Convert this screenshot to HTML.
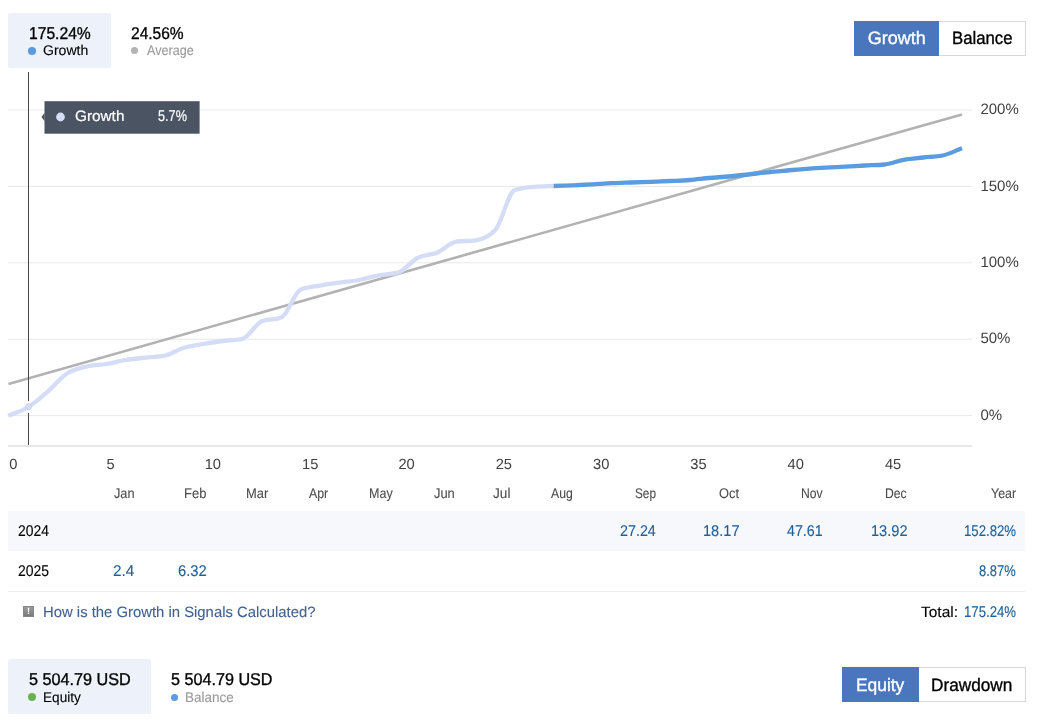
<!DOCTYPE html>
<html lang="en"><head><meta charset="utf-8"><title>Growth</title>
<style>
html,body{margin:0;padding:0;background:#fff;}
body{width:1050px;height:721px;position:relative;overflow:hidden;font-family:"Liberation Sans", sans-serif;text-rendering:geometricPrecision;}
.t{position:absolute;white-space:nowrap;display:block;}
.dot{position:absolute;border-radius:50%;display:block;}
.box{position:absolute;}
svg{position:absolute;left:0;top:0;}
svg text{font-family:"Liberation Sans", sans-serif;font-size:15px;fill:#404040;}
</style></head><body>

<div class="box" style="left:8px;top:13px;width:103px;height:55px;background:#edf2fa;border-radius:2px"></div>
<span class="t" style="left:28.78px;top:23.61px;font-size:17px;line-height:19px;color:#000;transform:scale(0.9205,1.0000);transform-origin:0 15.39px;-webkit-text-stroke:0.35px currentColor;">175.24%</span>
<i class="dot" style="left:28.35px;top:47.05px;width:7.5px;height:7.5px;background:#5b9be0"></i>
<span class="t" style="left:43.12px;top:42.15px;font-size:14px;line-height:16px;color:#000;transform:scale(1.0041,1.0000);transform-origin:0 12.85px;-webkit-text-stroke:0.125px currentColor;">Growth</span>
<span class="t" style="left:131.27px;top:23.61px;font-size:17px;line-height:19px;color:#000;transform:scale(0.9132,1.0000);transform-origin:0 15.39px;-webkit-text-stroke:0.35px currentColor;">24.56%</span>
<i class="dot" style="left:131.30px;top:47.30px;width:7px;height:7px;background:#b3b3b3"></i>
<span class="t" style="left:146.70px;top:42.15px;font-size:14px;line-height:16px;color:#999;transform:scale(0.8995,1.0000);transform-origin:0 12.85px;-webkit-text-stroke:0.1px currentColor;">Average</span>
<div class="box" style="left:854px;top:21px;width:85px;height:35px;background:#4a76bd"></div>
<div class="box" style="left:939px;top:21px;width:86px;height:33px;background:#fff;border:1px solid #d8d8d8;border-left:none"></div>
<span class="t" style="left:867.85px;top:27.76px;font-size:18px;line-height:20px;color:#fff;-webkit-text-stroke:0.35px currentColor;">Growth</span>
<span class="t" style="left:951.91px;top:27.76px;font-size:18px;line-height:20px;color:#000;transform:scale(0.9311,1.0000);transform-origin:0 16.24px;-webkit-text-stroke:0.35px currentColor;">Balance</span>
<svg width="1050" height="500" viewBox="0 0 1050 500">
<defs><clipPath id="cl"><rect x="0" y="0" width="553.60" height="500"/></clipPath><clipPath id="cr"><rect x="553.60" y="0" width="600" height="500"/></clipPath></defs>
<rect x="8" y="109.5" width="964" height="1" fill="#e9e9e9"/>
<rect x="8" y="185.9" width="964" height="1" fill="#e9e9e9"/>
<rect x="8" y="262.3" width="964" height="1" fill="#e9e9e9"/>
<rect x="8" y="338.7" width="964" height="1" fill="#e9e9e9"/>
<rect x="8" y="415.1" width="964" height="1" fill="#e9e9e9"/>
<rect x="8" y="445" width="964" height="2" fill="#e8e8e8"/>
<path d="M8.5,384 L962,114.4" stroke="#b2b2b2" stroke-width="2.6" fill="none"/>
<rect x="28" y="72" width="1" height="373" fill="#46464c"/>
<circle cx="28.5" cy="407" r="6" fill="#fff"/>
<path d="M8.1,415.75 L9.00,415.40C15.48,412.60 21.97,410.98 28.45,407.00C34.93,403.02 41.42,397.13 47.90,391.50C54.38,385.87 60.87,377.37 67.35,373.20C73.83,369.03 80.32,368.03 86.80,366.50C93.28,364.97 99.77,365.08 106.25,364.00C112.73,362.92 119.22,361.05 125.70,360.00C132.18,358.95 138.67,358.42 145.15,357.70C151.63,356.98 158.12,357.03 164.60,355.70C171.08,354.37 177.57,349.65 184.05,347.70C190.53,345.75 197.02,345.12 203.50,344.00C209.98,342.88 216.47,341.83 222.95,341.00C229.43,340.17 235.92,340.33 242.40,339.00C248.88,337.67 255.37,323.60 261.85,321.20C268.33,318.80 274.82,320.00 281.30,317.60C287.78,315.20 294.27,292.10 300.75,289.50C307.23,286.90 313.72,286.75 320.20,285.60C326.68,284.45 333.17,283.53 339.65,282.60C346.13,281.67 352.62,281.22 359.10,280.00C365.58,278.78 372.07,276.52 378.55,275.30C385.03,274.08 391.52,274.43 398.00,272.70C404.48,270.97 410.97,261.33 417.45,258.00C423.93,254.67 430.42,255.42 436.90,252.70C443.38,249.98 449.87,242.63 456.35,241.70C462.83,240.77 469.32,241.23 475.80,240.30C482.28,239.37 488.77,236.87 495.25,230.00C501.73,223.13 508.22,192.13 514.70,190.00C521.18,187.87 527.67,187.33 534.15,186.80C540.63,186.27 547.12,186.25 553.60,186.00C560.08,185.75 566.57,185.58 573.05,185.30C579.53,185.02 586.02,184.65 592.50,184.30C598.98,183.95 605.47,183.50 611.95,183.20C618.43,182.90 624.92,182.73 631.40,182.50C637.88,182.27 644.37,182.05 650.85,181.80C657.33,181.55 663.82,181.30 670.30,181.00C676.78,180.70 683.27,180.50 689.75,180.00C696.23,179.50 702.72,178.58 709.20,178.00C715.68,177.42 722.17,177.08 728.65,176.50C735.13,175.92 741.62,175.20 748.10,174.50C754.58,173.80 761.07,172.97 767.55,172.30C774.03,171.63 780.52,171.08 787.00,170.50C793.48,169.92 799.97,169.27 806.45,168.80C812.93,168.33 819.42,168.05 825.90,167.70C832.38,167.35 838.87,167.07 845.35,166.70C851.83,166.33 858.32,165.87 864.80,165.50C871.28,165.13 877.77,165.17 884.25,164.50C890.73,163.83 897.22,160.97 903.70,159.80C910.18,158.63 916.67,158.22 923.15,157.50C929.63,156.78 936.12,156.83 942.60,155.50C949.08,154.17 955.57,150.63 962.05,148.20" stroke="#d5dcf5" stroke-width="4.3" fill="none" clip-path="url(#cl)" stroke-linejoin="round"/>
<path d="M8.1,415.75 L9.00,415.40C15.48,412.60 21.97,410.98 28.45,407.00C34.93,403.02 41.42,397.13 47.90,391.50C54.38,385.87 60.87,377.37 67.35,373.20C73.83,369.03 80.32,368.03 86.80,366.50C93.28,364.97 99.77,365.08 106.25,364.00C112.73,362.92 119.22,361.05 125.70,360.00C132.18,358.95 138.67,358.42 145.15,357.70C151.63,356.98 158.12,357.03 164.60,355.70C171.08,354.37 177.57,349.65 184.05,347.70C190.53,345.75 197.02,345.12 203.50,344.00C209.98,342.88 216.47,341.83 222.95,341.00C229.43,340.17 235.92,340.33 242.40,339.00C248.88,337.67 255.37,323.60 261.85,321.20C268.33,318.80 274.82,320.00 281.30,317.60C287.78,315.20 294.27,292.10 300.75,289.50C307.23,286.90 313.72,286.75 320.20,285.60C326.68,284.45 333.17,283.53 339.65,282.60C346.13,281.67 352.62,281.22 359.10,280.00C365.58,278.78 372.07,276.52 378.55,275.30C385.03,274.08 391.52,274.43 398.00,272.70C404.48,270.97 410.97,261.33 417.45,258.00C423.93,254.67 430.42,255.42 436.90,252.70C443.38,249.98 449.87,242.63 456.35,241.70C462.83,240.77 469.32,241.23 475.80,240.30C482.28,239.37 488.77,236.87 495.25,230.00C501.73,223.13 508.22,192.13 514.70,190.00C521.18,187.87 527.67,187.33 534.15,186.80C540.63,186.27 547.12,186.25 553.60,186.00C560.08,185.75 566.57,185.58 573.05,185.30C579.53,185.02 586.02,184.65 592.50,184.30C598.98,183.95 605.47,183.50 611.95,183.20C618.43,182.90 624.92,182.73 631.40,182.50C637.88,182.27 644.37,182.05 650.85,181.80C657.33,181.55 663.82,181.30 670.30,181.00C676.78,180.70 683.27,180.50 689.75,180.00C696.23,179.50 702.72,178.58 709.20,178.00C715.68,177.42 722.17,177.08 728.65,176.50C735.13,175.92 741.62,175.20 748.10,174.50C754.58,173.80 761.07,172.97 767.55,172.30C774.03,171.63 780.52,171.08 787.00,170.50C793.48,169.92 799.97,169.27 806.45,168.80C812.93,168.33 819.42,168.05 825.90,167.70C832.38,167.35 838.87,167.07 845.35,166.70C851.83,166.33 858.32,165.87 864.80,165.50C871.28,165.13 877.77,165.17 884.25,164.50C890.73,163.83 897.22,160.97 903.70,159.80C910.18,158.63 916.67,158.22 923.15,157.50C929.63,156.78 936.12,156.83 942.60,155.50C949.08,154.17 955.57,150.63 962.05,148.20" stroke="#5b9be0" stroke-width="4.3" fill="none" clip-path="url(#cr)" stroke-linejoin="round"/>
<circle cx="28.4" cy="406.8" r="3.1" fill="#d5dcf5" stroke="#c6cef0" stroke-width="0.8"/>
<text x="980.4" y="114.1">200%</text>
<text x="980.4" y="190.5">150%</text>
<text x="980.4" y="266.9">100%</text>
<text x="980.4" y="343.3">50%</text>
<text x="980.4" y="419.7">0%</text>
<text x="9.2" y="468.7" style="font-size:14.7px">0</text>
<text x="106.5" y="468.7" style="font-size:14.7px">5</text>
<text x="204.7" y="468.7" style="font-size:14.7px">10</text>
<text x="302.0" y="468.7" style="font-size:14.7px">15</text>
<text x="398.4" y="468.7" style="font-size:14.7px">20</text>
<text x="495.7" y="468.7" style="font-size:14.7px">25</text>
<text x="593.0" y="468.7" style="font-size:14.7px">30</text>
<text x="690.3" y="468.7" style="font-size:14.7px">35</text>
<text x="787.6" y="468.7" style="font-size:14.7px">40</text>
<text x="884.9" y="468.7" style="font-size:14.7px">45</text>
<rect x="44.5" y="101.2" width="155.1" height="32.5" fill="#4a5463"/>
<path d="M44.6,112.8 L41.5,117 L44.6,121.2 Z" fill="#4a5463"/>
<circle cx="60.5" cy="117" r="4.4" fill="#d8ddf7"/>
</svg>
<span class="t" style="left:74.83px;top:108.30px;font-size:15px;line-height:17px;color:#fff;transform:scale(1.0218,1.0000);transform-origin:0 13.70px;-webkit-text-stroke:0.2px currentColor;">Growth</span>
<span class="t" style="left:157.89px;top:108.13px;font-size:15.5px;line-height:17px;color:#fff;transform:scale(0.8189,1.0000);transform-origin:0 13.87px;-webkit-text-stroke:0.2px currentColor;">5.7%</span>
<span class="t" style="left:114.06px;top:485.15px;font-size:14px;line-height:16px;color:#4c4c4c;transform:scale(0.9101,1.0000);transform-origin:0 12.85px;-webkit-text-stroke:0.1px currentColor;">Jan</span>
<span class="t" style="left:184.46px;top:485.15px;font-size:14px;line-height:16px;color:#4c4c4c;transform:scale(0.9263,1.0000);transform-origin:0 12.85px;-webkit-text-stroke:0.1px currentColor;">Feb</span>
<span class="t" style="left:246.22px;top:485.15px;font-size:14px;line-height:16px;color:#4c4c4c;transform:scale(0.9226,1.0000);transform-origin:0 12.85px;-webkit-text-stroke:0.1px currentColor;">Mar</span>
<span class="t" style="left:309.25px;top:485.15px;font-size:14px;line-height:16px;color:#4c4c4c;transform:scale(0.8809,1.0000);transform-origin:0 12.85px;-webkit-text-stroke:0.1px currentColor;">Apr</span>
<span class="t" style="left:368.50px;top:485.15px;font-size:14px;line-height:16px;color:#4c4c4c;transform:scale(0.8957,1.0000);transform-origin:0 12.85px;-webkit-text-stroke:0.1px currentColor;">May</span>
<span class="t" style="left:433.61px;top:485.15px;font-size:14px;line-height:16px;color:#4c4c4c;transform:scale(0.9195,1.0000);transform-origin:0 12.85px;-webkit-text-stroke:0.1px currentColor;">Jun</span>
<span class="t" style="left:493.00px;top:485.15px;font-size:14px;line-height:16px;color:#4c4c4c;transform:scale(0.9738,1.0000);transform-origin:0 12.85px;-webkit-text-stroke:0.1px currentColor;">Jul</span>
<span class="t" style="left:551.20px;top:485.15px;font-size:14px;line-height:16px;color:#4c4c4c;transform:scale(0.8743,1.0000);transform-origin:0 12.85px;-webkit-text-stroke:0.1px currentColor;">Aug</span>
<span class="t" style="left:634.97px;top:485.15px;font-size:14px;line-height:16px;color:#4c4c4c;transform:scale(0.8425,1.0000);transform-origin:0 12.85px;-webkit-text-stroke:0.1px currentColor;">Sep</span>
<span class="t" style="left:718.92px;top:485.15px;font-size:14px;line-height:16px;color:#4c4c4c;transform:scale(0.9159,1.0000);transform-origin:0 12.85px;-webkit-text-stroke:0.1px currentColor;">Oct</span>
<span class="t" style="left:801.23px;top:485.15px;font-size:14px;line-height:16px;color:#4c4c4c;transform:scale(0.8678,1.0000);transform-origin:0 12.85px;-webkit-text-stroke:0.1px currentColor;">Nov</span>
<span class="t" style="left:885.13px;top:485.15px;font-size:14px;line-height:16px;color:#4c4c4c;transform:scale(0.8696,1.0000);transform-origin:0 12.85px;-webkit-text-stroke:0.1px currentColor;">Dec</span>
<span class="t" style="left:990.59px;top:485.15px;font-size:14px;line-height:16px;color:#4c4c4c;transform:scale(0.8872,1.0000);transform-origin:0 12.85px;-webkit-text-stroke:0.1px currentColor;">Year</span>
<div class="box" style="left:8px;top:511px;width:1017px;height:40px;background:#f7f8fc"></div>
<div class="box" style="left:8px;top:591px;width:1017px;height:1px;background:#eee"></div>
<span class="t" style="left:18.36px;top:523.13px;font-size:15.5px;line-height:17px;color:#000;transform:scale(0.8963,1.0000);transform-origin:0 13.87px;-webkit-text-stroke:0.15px currentColor;">2024</span>
<span class="t" style="left:18.35px;top:563.13px;font-size:15.5px;line-height:17px;color:#000;transform:scale(0.9005,1.0000);transform-origin:0 13.87px;-webkit-text-stroke:0.15px currentColor;">2025</span>
<span class="t" style="left:620.11px;top:523.13px;font-size:15.5px;line-height:17px;color:#20609a;transform:scale(0.9236,1.0000);transform-origin:0 13.87px;-webkit-text-stroke:0.125px currentColor;">27.24</span>
<span class="t" style="left:703.03px;top:523.13px;font-size:15.5px;line-height:17px;color:#20609a;transform:scale(0.9411,1.0000);transform-origin:0 13.87px;-webkit-text-stroke:0.125px currentColor;">18.17</span>
<span class="t" style="left:786.94px;top:523.13px;font-size:15.5px;line-height:17px;color:#20609a;transform:scale(0.9179,1.0000);transform-origin:0 13.87px;-webkit-text-stroke:0.125px currentColor;">47.61</span>
<span class="t" style="left:871.23px;top:523.13px;font-size:15.5px;line-height:17px;color:#20609a;transform:scale(0.9411,1.0000);transform-origin:0 13.87px;-webkit-text-stroke:0.125px currentColor;">13.92</span>
<span class="t" style="left:963.78px;top:523.13px;font-size:15.5px;line-height:17px;color:#20609a;transform:scale(0.8516,1.0000);transform-origin:0 13.87px;-webkit-text-stroke:0.125px currentColor;">152.82%</span>
<span class="t" style="left:112.86px;top:563.13px;font-size:15.5px;line-height:17px;color:#20609a;transform:scale(0.9892,1.0000);transform-origin:0 13.87px;-webkit-text-stroke:0.125px currentColor;">2.4</span>
<span class="t" style="left:177.79px;top:563.13px;font-size:15.5px;line-height:17px;color:#20609a;transform:scale(0.9528,1.0000);transform-origin:0 13.87px;-webkit-text-stroke:0.125px currentColor;">6.32</span>
<span class="t" style="left:979.19px;top:563.13px;font-size:15.5px;line-height:17px;color:#20609a;transform:scale(0.8360,1.0000);transform-origin:0 13.87px;-webkit-text-stroke:0.125px currentColor;">8.87%</span>
<div class="box" style="left:23px;top:606px;width:11px;height:11px;background:linear-gradient(#9c9c9c,#7a7a7a);border:0.5px solid #858585;border-radius:0.5px;box-sizing:border-box"></div>
<span class="t" style="left:23px;top:606px;width:11px;text-align:center;font-size:9px;font-weight:700;color:#fff;line-height:11px">!</span>
<span class="t" style="left:42.61px;top:604.30px;font-size:15px;line-height:17px;color:#41618f;transform:scale(0.9902,1.0000);transform-origin:0 13.70px;-webkit-text-stroke:0.1px currentColor;">How is the Growth in Signals Calculated?</span>
<span class="t" style="left:920.72px;top:604.30px;font-size:15px;line-height:17px;color:#000;transform:scale(1.0313,1.0000);transform-origin:0 13.70px;-webkit-text-stroke:0.125px currentColor;">Total:</span>
<span class="t" style="left:963.78px;top:604.13px;font-size:15.5px;line-height:17px;color:#20609a;transform:scale(0.8516,1.0000);transform-origin:0 13.87px;-webkit-text-stroke:0.125px currentColor;">175.24%</span>
<div class="box" style="left:8px;top:659px;width:143px;height:55px;background:#edf2fa;border-radius:2px"></div>
<span class="t" style="left:28.90px;top:669.61px;font-size:17px;line-height:19px;color:#000;transform:scale(0.9533,1.0000);transform-origin:0 15.39px;-webkit-text-stroke:0.35px currentColor;">5 504.79 USD</span>
<i class="dot" style="left:28.00px;top:693.10px;width:8px;height:8px;background:#6ab04c"></i>
<span class="t" style="left:42.94px;top:689.15px;font-size:14px;line-height:16px;color:#000;transform:scale(0.9720,1.0000);transform-origin:0 12.85px;-webkit-text-stroke:0.125px currentColor;">Equity</span>
<span class="t" style="left:171.30px;top:669.61px;font-size:17px;line-height:19px;color:#000;transform:scale(0.9504,1.0000);transform-origin:0 15.39px;-webkit-text-stroke:0.35px currentColor;">5 504.79 USD</span>
<i class="dot" style="left:170.80px;top:693.50px;width:7px;height:7px;background:#5b9be0"></i>
<span class="t" style="left:185.32px;top:689.15px;font-size:14px;line-height:16px;color:#999;transform:scale(0.9619,1.0000);transform-origin:0 12.85px;-webkit-text-stroke:0.1px currentColor;">Balance</span>
<div class="box" style="left:842px;top:667px;width:77px;height:35px;background:#4a76bd"></div>
<div class="box" style="left:919px;top:667px;width:106px;height:33px;background:#fff;border:1px solid #d8d8d8;border-left:none"></div>
<span class="t" style="left:855.96px;top:674.76px;font-size:18px;line-height:20px;color:#fff;transform:scale(0.9650,1.0000);transform-origin:0 16.24px;-webkit-text-stroke:0.35px currentColor;">Equity</span>
<span class="t" style="left:931.37px;top:674.76px;font-size:18px;line-height:20px;color:#000;transform:scale(0.9570,1.0000);transform-origin:0 16.24px;-webkit-text-stroke:0.35px currentColor;">Drawdown</span>
</body></html>
